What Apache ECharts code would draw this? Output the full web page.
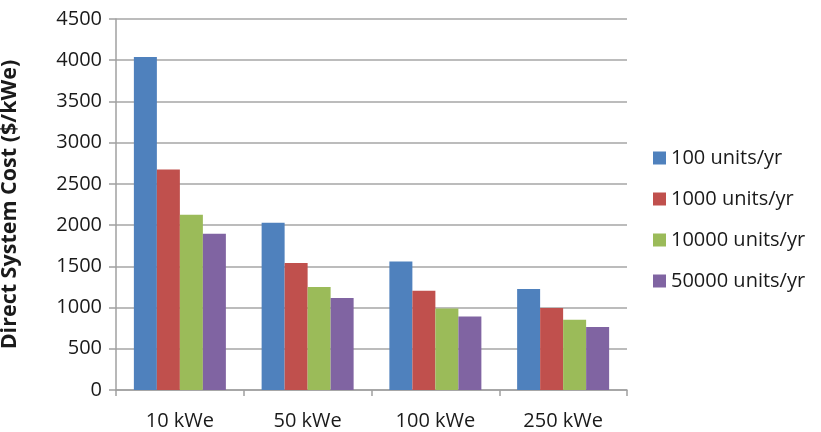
<!DOCTYPE html>
<html>
<head>
<meta charset="utf-8">
<script src="https://cdn.jsdelivr.net/npm/echarts@6/dist/echarts.min.js"></script>
<style>
html, body { margin: 0; padding: 0; background: #fff; }
#chart { width: 821px; height: 432px; }
</style>
</head>
<body>
<div id="chart"></div>
<script>
// System sizes on the x axis
const categories = ['10 kWe', '50 kWe', '100 kWe', '250 kWe'];
// Production volume series
const seriesNames = ['100 units/yr', '1000 units/yr', '10000 units/yr', '50000 units/yr'];
const cost100 = [4040, 2030, 1560, 1225];
const cost1000 = [2675, 1540, 1205, 995];
const cost10000 = [2125, 1250, 990, 852];
const cost50000 = [1895, 1115, 892, 764];
const seriesColors = ['#4f81bd', '#c0504d', '#9bbb59', '#8064a2'];

const fontFamily = '"Open Sans", Lato, sans-serif';
const values = [cost100, cost1000, cost10000, cost50000];

const chart = echarts.init(document.getElementById('chart'), null, { renderer: 'canvas' });
chart.setOption({
  animation: false,
  textStyle: { fontFamily: fontFamily },
  grid: { left: 116, right: 194, top: 19, bottom: 42, containLabel: false, outerBoundsMode: 'none' },
  legend: {
    orient: 'vertical',
    left: 648,
    top: 143,
    itemWidth: 13,
    itemHeight: 13,
    itemGap: 21,
    icon: 'rect',
    textStyle: { fontSize: 20, lineHeight: 20, color: '#1a1a1a', fontFamily: fontFamily, padding: [0, 0, 0, 0] },
    data: seriesNames
  },
  xAxis: {
    type: 'category',
    data: categories,
    axisLine: { lineStyle: { color: '#a0a0a0', width: 1.5 } },
    axisTick: { show: true, length: 6, alignWithLabel: false, lineStyle: { color: '#a0a0a0', width: 1.5 } },
    axisLabel: { fontSize: 20, color: '#1a1a1a', margin: 21 }
  },
  yAxis: {
    type: 'value',
    min: 0,
    max: 4500,
    interval: 500,
    name: 'Direct System Cost ($/kWe)',
    nameLocation: 'middle',
    nameGap: 95,
    nameTextStyle: { fontSize: 21.5, fontWeight: 'bold', color: '#1a1a1a' },
    axisLine: { show: true, lineStyle: { color: '#a0a0a0', width: 1.5 } },
    axisTick: { show: true, length: 7, lineStyle: { color: '#a0a0a0', width: 1.5 } },
    axisLabel: { fontSize: 20, color: '#1a1a1a', margin: 14, formatter: (v) => String(v) },
    splitLine: { lineStyle: { color: '#a6a6a6', width: 1.5 } }
  },
  series: seriesNames.map((name, i) => ({
    name: name,
    type: 'bar',
    data: values[i],
    barWidth: 23,
    barGap: '0%',
    itemStyle: { color: seriesColors[i] }
  }))
});
</script>
</body>
</html>
